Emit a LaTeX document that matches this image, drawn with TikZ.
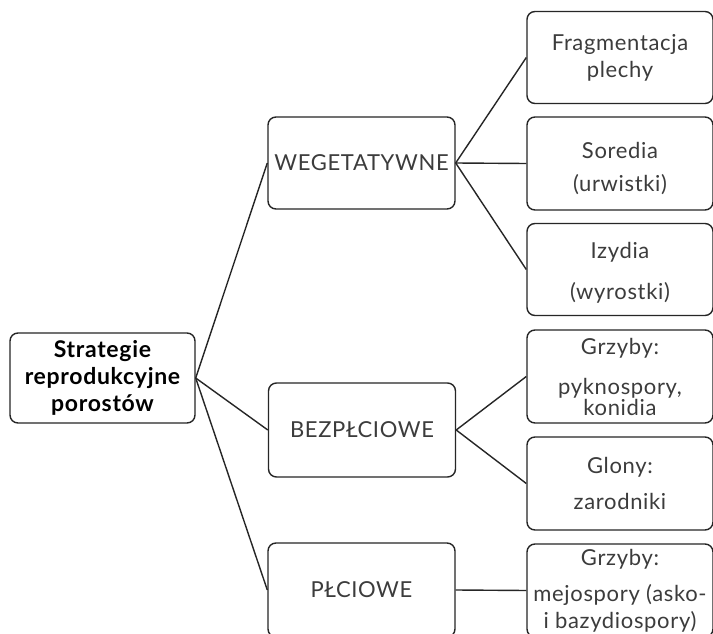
\documentclass[tikz,border=0pt]{standalone}
\usepackage{fontspec}
\setmainfont{Lato}[LetterSpace=3]
\definecolor{txt}{RGB}{60,60,60}
\begin{document}
\begin{tikzpicture}[x=1pt,y=-1pt,
  box/.style={draw=black!85, line width=1.4pt, rounded corners=8pt, minimum width=#1, inner sep=0pt, align=center, text=txt, font=\fontsize{22}{26}\selectfont},
  link/.style={draw=black!85, line width=1.4pt}]
\useasboundingbox (0,0) rectangle (713,634);
\fill[white] (0,0) rectangle (713,634);
% root
\node[box=185pt, minimum height=90pt, text=black, font=\bfseries\fontsize{23}{27}\selectfont] (root) at (102.5,378) {Strategie\\reprodukcyjne\\porostów};
% middle
\node[box=187pt, minimum height=92pt] (weg) at (361.5,163) {WEGETATYWNE};
\node[box=187pt, minimum height=94pt] (bez) at (362,430) {BEZPŁCIOWE};
\node[box=187pt, minimum height=94pt] (plc) at (361.5,590) {PŁCIOWE};
% right
\node[box=186pt, minimum height=92pt] (frag) at (620,57.5) {Fragmentacja\\[1pt]plechy};
\node[box=186pt, minimum height=93pt] (sor) at (620,163.5) {\rule{0pt}{26pt}Soredia\\[7pt](urwistki)};
\node[box=186pt, minimum height=92pt] (izy) at (620,269.5) {\rule{0pt}{22pt}Izydia\\[15pt](wyrostki)};
\node[box=186pt, minimum height=93pt] (grz) at (620,376.5) {Grzyby:\\[14pt]pyknospory,\\[-5pt]konidia};
\node[box=186pt, minimum height=93pt] (glo) at (620,483.5) {Glony:\\[10pt]zarodniki};
\node[box=186pt, minimum height=93pt] (grz2) at (620,590.5) {Grzyby:\\[10pt]mejospory (asko-\\[1pt]i bazydiospory)};
% connectors
\draw[link] (root.east) -- (weg.west);
\draw[link] (root.east) -- (bez.west);
\draw[link] (root.east) -- (plc.west);
\draw[link] (weg.east) -- (frag.west);
\draw[link] (weg.east) -- (sor.west);
\draw[link] (weg.east) -- (izy.west);
\draw[link] (bez.east) -- (grz.west);
\draw[link] (bez.east) -- (glo.west);
\draw[link] (plc.east) -- (grz2.west);
\end{tikzpicture}
\end{document}
